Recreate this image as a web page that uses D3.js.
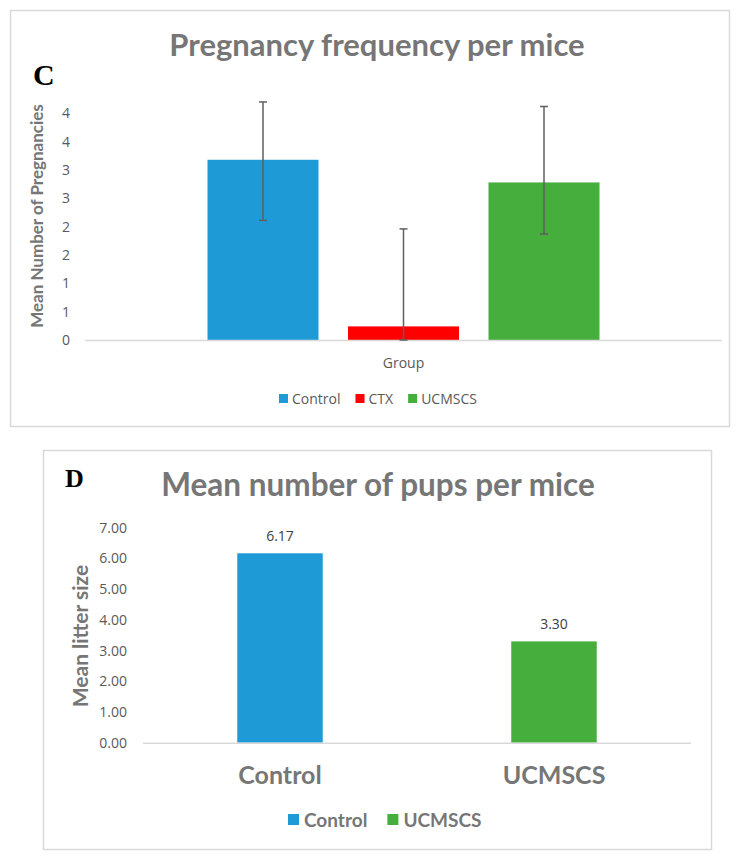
<!DOCTYPE html>
<html>
<head>
<meta charset="utf-8">
<script src="https://cdn.jsdelivr.net/npm/d3@7"></script>
<style>
  body { margin: 0; background: #fff; }
  text { font-family: Lato, "Open Sans", sans-serif; }
</style>
</head>
<body>
<svg id="chart" width="750" height="857"></svg>
<script>
// panel C data
const pregGroups = ["Control", "CTX", "UCMSCS"];
const pregMeans = [3.18, 0.24, 2.78];
const pregErrPlus = [1.02, 1.72, 1.34];
const pregErrMinus = [1.07, 0.24, 0.91];
const pregTicks = [0, 0.5, 1, 1.5, 2, 2.5, 3, 3.5, 4];
const pregTickLabels = ["0", "1", "1", "2", "2", "3", "3", "4", "4"];

// panel D data
const pupGroups = ["Control", "UCMSCS"];
const pupMeans = [6.17, 3.3];
const pupTicks = [0, 1, 2, 3, 4, 5, 6, 7];

const colors = { Control: "#1e9bd7", CTX: "#ff0000", UCMSCS: "#45ae3d" };
const gray = "#767676";
const tickGray = "#595959";

const svg = d3.select("#chart");

// ---------- panel C ----------
const c = svg.append("g");
c.append("rect")
  .attr("x", 10.5).attr("y", 10.5).attr("width", 719).attr("height", 416)
  .attr("fill", "#fff").attr("stroke", "#d9d9d9").attr("stroke-width", 1.5);

c.append("text")
  .attr("x", 377).attr("y", 56)
  .attr("text-anchor", "middle")
  .style("font-size", "31px").style("font-weight", "bold")
  .attr("fill", gray)
  .text("Pregnancy frequency per mice");

c.append("text")
  .attr("x", 33).attr("y", 85)
  .style("font-family", "'Liberation Serif', 'Times New Roman', serif")
  .style("font-size", "30px").style("font-weight", "bold")
  .attr("fill", "#000")
  .text("C");

const yC = d3.scaleLinear().domain([0, 4]).range([340, 113.3]);
const xC0 = d3.scaleBand().domain(["Group"]).range([85, 722]);
const cx = xC0("Group") + xC0.bandwidth() / 2;
const xC = d3.scaleBand().domain(pregGroups).range([cx - 196, cx + 196]).paddingInner(0.21);

const yAxisC = d3.axisLeft(yC)
  .tickValues(pregTicks)
  .tickSize(0)
  .tickPadding(15)
  .tickFormat((d, i) => pregTickLabels[i]);

const gyC = c.append("g").attr("transform", "translate(85,0)").call(yAxisC);
gyC.select(".domain").remove();
gyC.selectAll("text").style("font-size", "14px").attr("fill", tickGray)
  .style("font-family", "'Open Sans', sans-serif");

c.append("text")
  .attr("transform", "translate(43,216) rotate(-90)")
  .attr("text-anchor", "middle")
  .style("font-size", "17px").style("font-weight", "bold")
  .attr("fill", gray)
  .text("Mean Number of Pregnancies");

c.selectAll(".barC")
  .data(pregGroups)
  .join("rect")
  .attr("class", "barC")
  .attr("x", d => xC(d))
  .attr("width", xC.bandwidth())
  .attr("y", (d, i) => yC(pregMeans[i]))
  .attr("height", (d, i) => yC(0) - yC(pregMeans[i]))
  .attr("fill", d => colors[d]);

c.append("line")
  .attr("x1", 85).attr("x2", 722)
  .attr("y1", yC(0) + 0.5).attr("y2", yC(0) + 0.5)
  .attr("stroke", "#d9d9d9").attr("stroke-width", 1.5);

const err = c.selectAll(".err")
  .data(pregGroups)
  .join("g")
  .attr("class", "err")
  .attr("stroke", "#5f5f5f").attr("stroke-width", 1.5);
err.append("line")
  .attr("x1", d => xC(d) + xC.bandwidth() / 2).attr("x2", d => xC(d) + xC.bandwidth() / 2)
  .attr("y1", (d, i) => yC(pregMeans[i] + pregErrPlus[i]))
  .attr("y2", (d, i) => yC(pregMeans[i] - pregErrMinus[i]));
[1, -1].forEach(sign => {
  err.append("line")
    .attr("x1", d => xC(d) + xC.bandwidth() / 2 - 4)
    .attr("x2", d => xC(d) + xC.bandwidth() / 2 + 4)
    .attr("y1", (d, i) => yC(pregMeans[i] + (sign > 0 ? pregErrPlus[i] : -pregErrMinus[i])))
    .attr("y2", (d, i) => yC(pregMeans[i] + (sign > 0 ? pregErrPlus[i] : -pregErrMinus[i])));
});

c.append("text")
  .attr("x", cx).attr("y", 368)
  .attr("text-anchor", "middle")
  .style("font-size", "14px").style("font-family", "'Open Sans', sans-serif")
  .attr("fill", tickGray)
  .text("Group");

const legC = c.append("g").attr("transform", "translate(279,399)");
let lx = 0;
pregGroups.forEach(g => {
  const item = legC.append("g").attr("transform", `translate(${lx},0)`);
  item.append("rect").attr("x", 0).attr("y", -5).attr("width", 9).attr("height", 9).attr("fill", colors[g]);
  const t = item.append("text").attr("x", 13).attr("y", 5)
    .style("font-size", "14px").style("font-family", "'Open Sans', sans-serif")
    .attr("fill", tickGray).text(g);
  lx += 13 + t.node().getComputedTextLength() + 15;
});

// ---------- panel D ----------
const dG = svg.append("g");
dG.append("rect")
  .attr("x", 43.5).attr("y", 450.5).attr("width", 668).attr("height", 399)
  .attr("fill", "#fff").attr("stroke", "#d9d9d9").attr("stroke-width", 1.5);

dG.append("text")
  .attr("x", 65).attr("y", 487)
  .style("font-family", "'Liberation Serif', 'Times New Roman', serif")
  .style("font-size", "26px").style("font-weight", "bold")
  .attr("fill", "#000")
  .text("D");

dG.append("text")
  .attr("x", 378).attr("y", 496)
  .attr("text-anchor", "middle")
  .style("font-size", "31.5px").style("font-weight", "bold")
  .attr("fill", gray)
  .text("Mean number of pups per mice");

const yD = d3.scaleLinear().domain([0, 7]).range([742.7, 527.8]);
const xD = d3.scaleBand().domain(pupGroups).range([143, 691]).paddingInner(0.688).paddingOuter(0.344);

const gyD = dG.append("g").attr("transform", "translate(143,0)")
  .call(d3.axisLeft(yD).tickValues(pupTicks).tickSize(0).tickPadding(16).tickFormat(d3.format(".2f")));
gyD.select(".domain").remove();
gyD.selectAll("text").style("font-size", "14px").attr("fill", tickGray)
  .style("font-family", "'Open Sans', sans-serif");

dG.append("text")
  .attr("transform", "translate(88,636) rotate(-90)")
  .attr("text-anchor", "middle")
  .style("font-size", "21px").style("font-weight", "bold")
  .attr("fill", gray)
  .text("Mean litter size");

dG.selectAll(".barD")
  .data(pupGroups)
  .join("rect")
  .attr("class", "barD")
  .attr("x", d => xD(d))
  .attr("width", xD.bandwidth())
  .attr("y", (d, i) => yD(pupMeans[i]))
  .attr("height", (d, i) => yD(0) - yD(pupMeans[i]))
  .attr("fill", d => colors[d]);

dG.append("line")
  .attr("x1", 143).attr("x2", 691)
  .attr("y1", yD(0) + 0.5).attr("y2", yD(0) + 0.5)
  .attr("stroke", "#d9d9d9").attr("stroke-width", 1.5);

dG.selectAll(".valD")
  .data(pupGroups)
  .join("text")
  .attr("class", "valD")
  .attr("x", d => xD(d) + xD.bandwidth() / 2)
  .attr("y", (d, i) => yD(pupMeans[i]) - 12)
  .attr("text-anchor", "middle")
  .style("font-size", "14px").style("font-family", "'Open Sans', sans-serif")
  .attr("fill", "#404040")
  .text((d, i) => d3.format(".2f")(pupMeans[i]));

const gxD = dG.append("g").attr("transform", `translate(0,${yD(0)})`)
  .call(d3.axisBottom(xD).tickSize(0).tickPadding(24));
gxD.select(".domain").remove();
gxD.selectAll("text").style("font-size", "25px").style("font-weight", "bold").attr("fill", gray);

const legD = dG.append("g").attr("transform", "translate(288,820)");
lx = 0;
pupGroups.forEach(g => {
  const item = legD.append("g").attr("transform", `translate(${lx},0)`);
  item.append("rect").attr("x", 0).attr("y", -6).attr("width", 11).attr("height", 11).attr("fill", colors[g]);
  const t = item.append("text").attr("x", 16).attr("y", 7)
    .style("font-size", "19px").style("font-weight", "bold")
    .attr("fill", gray).text(g);
  lx += 16 + t.node().getComputedTextLength() + 20;
});
</script>
</body>
</html>
